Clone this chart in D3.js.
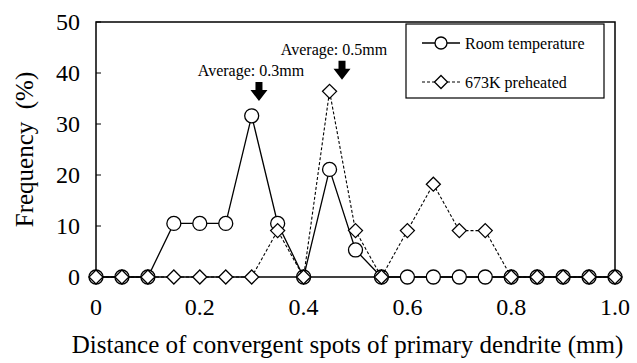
<!DOCTYPE html>
<html>
<head>
<meta charset="utf-8">
<script src="https://cdn.jsdelivr.net/npm/d3@7"></script>
<style>
  body { margin: 0; background: #fff; }
</style>
</head>
<body>
<div id="chart"></div>
<script>
const distances = [0, 0.05, 0.1, 0.15, 0.2, 0.25, 0.3, 0.35, 0.4, 0.45, 0.5, 0.55, 0.6, 0.65, 0.7, 0.75, 0.8, 0.85, 0.9, 0.95, 1.0];
const roomTemp = [0, 0, 0, 10.5, 10.5, 10.5, 31.6, 10.5, 0, 21.1, 5.3, 0, 0, 0, 0, 0, 0, 0, 0, 0, 0];
const preheated = [0, 0, 0, 0, 0, 0, 0, 9.1, 0, 36.4, 9.1, 0, 9.1, 18.2, 9.1, 9.1, 0, 0, 0, 0, 0];
const xTicks = [0, 0.2, 0.4, 0.6, 0.8, 1.0];
const yTicks = [0, 10, 20, 30, 40, 50];
const seriesNames = ["Room temperature", "673K preheated"];
// arrows: x position, tip value, label
const averages = [
  { x: 0.314, tip: 34.5, label: "Average: 0.3mm", labelY: 39.5 },
  { x: 0.474, tip: 38.7, label: "Average: 0.5mm", labelY: 43.5 }
];

const width = 637, height = 363;
const margin = { top: 22, right: 22, bottom: 86, left: 96 };
const font = "Liberation Serif";

const svg = d3.select("#chart").append("svg")
  .attr("width", width).attr("height", height)
  .attr("font-family", font);

const x = d3.scaleLinear().domain([0, 1]).range([margin.left, width - margin.right]);
const y = d3.scaleLinear().domain([0, 50]).range([height - margin.bottom, margin.top]);

// frame
svg.append("rect")
  .attr("x", x(0)).attr("y", y(50))
  .attr("width", x(1) - x(0)).attr("height", y(0) - y(50))
  .attr("fill", "none").attr("stroke", "#000").attr("stroke-width", 1.5);

// y axis ticks + labels
const yAxis = svg.append("g");
yAxis.selectAll("line").data(yTicks).join("line")
  .attr("x1", x(0)).attr("x2", x(0) + 5)
  .attr("y1", d => y(d)).attr("y2", d => y(d))
  .attr("stroke", "#000").attr("stroke-width", 1);
yAxis.selectAll("text").data(yTicks).join("text")
  .attr("x", x(0) - 16).attr("y", d => y(d))
  .attr("dy", "0.33em")
  .attr("text-anchor", "end")
  .attr("font-size", 24)
  .text(d => d);

// x tick labels
svg.append("g").selectAll("text").data(xTicks).join("text")
  .attr("x", d => x(d)).attr("y", y(0) + 38)
  .attr("text-anchor", "middle")
  .attr("font-size", 24)
  .text(d => d === 0 ? "0" : d3.format(".1f")(d));

// axis titles
svg.append("text")
  .attr("transform", `translate(33, ${(y(50) + y(0)) / 2 + 0}) rotate(-90)`)
  .attr("text-anchor", "middle")
  .attr("font-size", 25)
  .style("white-space", "pre")
  .text("Frequency  (%)");

svg.append("text")
  .attr("x", (x(0) + x(1)) / 2 - 8).attr("y", 353)
  .attr("text-anchor", "middle")
  .attr("font-size", 25)
  .text("Distance of convergent spots of primary dendrite (mm)");

// lines
const line = d3.line().x(d => x(d[0])).y(d => y(d[1]));
const roomPts = distances.map((d, i) => [d, roomTemp[i]]);
const prePts = distances.map((d, i) => [d, preheated[i]]);

svg.append("path").datum(roomPts)
  .attr("d", line).attr("fill", "none")
  .attr("stroke", "#000").attr("stroke-width", 1.3);

svg.append("g").selectAll("circle").data(roomPts).join("circle")
  .attr("cx", d => x(d[0])).attr("cy", d => y(d[1])).attr("r", 7)
  .attr("fill", "#fff").attr("stroke", "#000").attr("stroke-width", 1.3);

svg.append("path").datum(prePts)
  .attr("d", line).attr("fill", "none")
  .attr("stroke", "#000").attr("stroke-width", 1.1)
  .attr("stroke-dasharray", "3,2");

const diamond = (cx, cy, s) => `M${cx},${cy - s}L${cx + s},${cy}L${cx},${cy + s}L${cx - s},${cy}Z`;
svg.append("g").selectAll("path").data(prePts).join("path")
  .attr("d", d => diamond(x(d[0]), y(d[1]), 7))
  .attr("fill", "#fff").attr("stroke", "#000").attr("stroke-width", 1.3);

// average arrows
averages.forEach(a => {
  const cx = x(a.x), tip = y(a.tip);
  svg.append("path")
    .attr("d", `M${cx - 3.5},${tip - 19}L${cx + 3.5},${tip - 19}L${cx + 3.5},${tip - 11}L${cx + 8.5},${tip - 11}L${cx},${tip}L${cx - 8.5},${tip - 11}L${cx - 3.5},${tip - 11}Z`)
    .attr("fill", "#000");
  svg.append("text")
    .attr("x", cx - 8).attr("y", y(a.labelY))
    .attr("text-anchor", "middle")
    .attr("font-size", 16)
    .text(a.label);
});

// legend
const lg = svg.append("g");
lg.append("rect")
  .attr("x", 406).attr("y", 24).attr("width", 198).attr("height", 74)
  .attr("fill", "#fff").attr("stroke", "#000").attr("stroke-width", 1.2);
const rows = [43, 82];
rows.forEach((ry, i) => {
  lg.append("line")
    .attr("x1", 422).attr("x2", 460).attr("y1", ry).attr("y2", ry)
    .attr("stroke", "#000").attr("stroke-width", i === 0 ? 1.3 : 1.1)
    .attr("stroke-dasharray", i === 0 ? null : "3,2");
  if (i === 0) {
    lg.append("circle").attr("cx", 441).attr("cy", ry).attr("r", 6)
      .attr("fill", "#fff").attr("stroke", "#000").attr("stroke-width", 1.3);
  } else {
    lg.append("path").attr("d", diamond(441, ry, 6.5))
      .attr("fill", "#fff").attr("stroke", "#000").attr("stroke-width", 1.3);
  }
  lg.append("text")
    .attr("x", 465).attr("y", ry).attr("dy", "0.35em")
    .attr("font-size", 16)
    .text(seriesNames[i]);
});
</script>
</body>
</html>
